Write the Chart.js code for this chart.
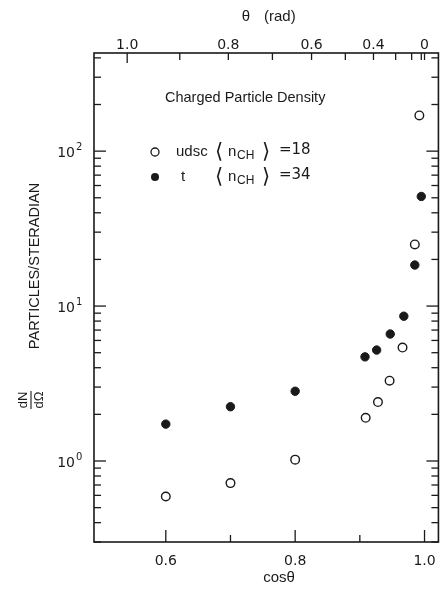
<!DOCTYPE html>
<html>
<head>
<meta charset="utf-8">
<script src="https://cdn.jsdelivr.net/npm/chart.js@4/dist/chart.umd.min.js"></script>
<style>
html,body{margin:0;padding:0;background:#fff;}
#wrap{width:447px;height:589px;}
</style>
</head>
<body>
<div id="wrap"><canvas id="c" width="447" height="589"></canvas></div>
<script>
// ---- data ----
const cosUdsc = [0.6, 0.7, 0.8, 0.909, 0.928, 0.946, 0.966, 0.985, 0.992];
const udscVals = [0.59, 0.72, 1.02, 1.9, 2.4, 3.3, 5.4, 25, 170];
const cosT = [0.6, 0.7, 0.8, 0.908, 0.926, 0.947, 0.968, 0.985, 0.995];
const tVals = [1.73, 2.24, 2.82, 4.7, 5.2, 6.6, 8.6, 18.4, 51];

const xTicks = [0.6, 0.7, 0.8, 0.9, 1.0];
const xTickLabels = ['0.6', '', '0.8', '', '1.0'];
const thetaTicks = [1.0, 0.9, 0.8, 0.7, 0.6, 0.5, 0.4, 0.3, 0.2, 0.1, 0.0];
const thetaLabels = ['1.0', '', '0.8', '', '0.6', '', '0.4', '', '', '', '0'];
const yDecades = [1, 10, 100];
const yExponents = ['0', '1', '2'];

const INK = '#1a1a1a';
const FONT = '"Liberation Sans", Arial, sans-serif';
const NUMFONT = '"DejaVu Sans", "Liberation Sans", sans-serif';

const decor = {
  id: 'decor',
  afterDraw(chart) {
    const ctx = chart.ctx;
    const a = chart.chartArea;
    const xs = chart.scales.x, ys = chart.scales.y;
    ctx.save();
    ctx.strokeStyle = INK;
    ctx.fillStyle = INK;
    // frame
    ctx.lineWidth = 1.6;
    ctx.strokeRect(a.left, a.top, a.right - a.left, a.bottom - a.top);
    ctx.lineWidth = 1.3;
    // bottom ticks (inward)
    xTicks.forEach((v, i) => {
      const px = xs.getPixelForValue(v);
      const len = xTickLabels[i] ? 12 : 7;
      ctx.beginPath(); ctx.moveTo(px, a.bottom); ctx.lineTo(px, a.bottom - len); ctx.stroke();
    });
    // top ticks (inward)
    thetaTicks.forEach((t, i) => {
      const px = xs.getPixelForValue(Math.cos(t));
      const len = i === 0 ? 10 : 7;
      ctx.beginPath(); ctx.moveTo(px, a.top); ctx.lineTo(px, a.top + len); ctx.stroke();
    });
    // y ticks left & right
    const ymin = ys.min, ymax = ys.max;
    for (let e = -1; e <= 3; e++) {
      for (let m = 1; m <= 9; m++) {
        const v = m * Math.pow(10, e);
        if (v < ymin || v > ymax) continue;
        const py = ys.getPixelForValue(v);
        const len = m === 1 ? 12 : 7;
        ctx.beginPath(); ctx.moveTo(a.left, py); ctx.lineTo(a.left + len, py); ctx.stroke();
        ctx.beginPath(); ctx.moveTo(a.right, py); ctx.lineTo(a.right - len, py); ctx.stroke();
      }
    }
    // y labels 10^n
    yDecades.forEach((v, i) => {
      const py = ys.getPixelForValue(v);
      ctx.font = '14px ' + NUMFONT;
      ctx.textAlign = 'right'; ctx.textBaseline = 'middle';
      ctx.fillText('10', 75, py + 2);
      ctx.font = '10px ' + NUMFONT;
      ctx.textAlign = 'left';
      ctx.fillText(yExponents[i], 76, py - 4);
    });
    // y title
    ctx.save();
    ctx.translate(35, 266);
    ctx.rotate(-Math.PI / 2);
    ctx.font = '14.5px ' + FONT;
    ctx.textAlign = 'center'; ctx.textBaseline = 'middle';
    ctx.fillText('PARTICLES/STERADIAN', 0, 0);
    ctx.restore();
    ctx.save();
    ctx.translate(31, 400);
    ctx.rotate(-Math.PI / 2);
    ctx.font = '13px ' + FONT;
    ctx.textAlign = 'center'; ctx.textBaseline = 'middle';
    ctx.fillText('dN', 0, -8);
    ctx.fillText('dΩ', 0, 8);
    ctx.lineWidth = 1.1;
    ctx.beginPath(); ctx.moveTo(-9, 0); ctx.lineTo(9, 0); ctx.stroke();
    ctx.restore();
    // x titles
    ctx.font = '15px ' + FONT;
    ctx.textAlign = 'center'; ctx.textBaseline = 'middle';
    ctx.fillText('cosθ', 279, 578);
    ctx.fillText('θ', 246, 17);
    ctx.textAlign = 'left';
    ctx.fillText('(rad)', 264, 17);
    // chart title
    ctx.font = '14.5px ' + FONT;
    ctx.textAlign = 'left';
    ctx.fillText('Charged Particle Density', 165, 98);
    // legend
    const rows = [
      {y: 152, fill: false, name: 'udsc', nameX: 176, val: '=18'},
      {y: 177, fill: true, name: 't', nameX: 181, val: '=34'}
    ];
    rows.forEach(r => {
      ctx.beginPath();
      ctx.arc(155, r.y, 4, 0, Math.PI * 2);
      if (r.fill) { ctx.fill(); } else { ctx.lineWidth = 1.3; ctx.stroke(); }
      ctx.font = '15px ' + FONT;
      ctx.textAlign = 'left'; ctx.textBaseline = 'middle';
      ctx.fillText(r.name, r.nameX, r.y);
      ctx.font = '21px "DejaVu Sans", sans-serif';
      ctx.fillText('⟨', 215, r.y + 1);
      ctx.font = '15px ' + FONT;
      ctx.fillText('n', 228, r.y);
      ctx.font = '12px ' + FONT;
      ctx.fillText('CH', 237, r.y + 4);
      ctx.font = '21px "DejaVu Sans", sans-serif';
      ctx.fillText('⟩', 262, r.y + 1);
      ctx.font = '15px ' + NUMFONT;
      ctx.fillText(r.val, 279, r.y - 2);
    });
    ctx.restore();
  }
};

const ptsU = cosUdsc.map((x, i) => ({x: x, y: udscVals[i]}));
const ptsT = cosT.map((x, i) => ({x: x, y: tVals[i]}));

new Chart(document.getElementById('c'), {
  type: 'scatter',
  data: {
    datasets: [
      {label: 'udsc', data: ptsU, pointStyle: 'circle', pointRadius: 4.3, pointHoverRadius: 4.3,
       backgroundColor: '#ffffff', borderColor: INK, borderWidth: 1.4},
      {label: 't', data: ptsT, pointStyle: 'circle', pointRadius: 4.2, pointHoverRadius: 4.2,
       backgroundColor: INK, borderColor: INK, borderWidth: 1}
    ]
  },
  options: {
    responsive: false,
    animation: false,
    events: [],
    layout: {padding: {left: 0, right: 7, top: 0, bottom: 0}},
    plugins: {legend: {display: false}, tooltip: {enabled: false}, title: {display: false}},
    scales: {
      x: {
        type: 'linear', position: 'bottom', min: 0.489, max: 1.0215,
        afterBuildTicks: s => { s.ticks = xTicks.map(v => ({value: v})); },
        afterFit: s => { s.height = 47; },
        grid: {display: false, drawTicks: false},
        border: {display: false},
        ticks: {autoSkip: false, maxRotation: 0, padding: 11, color: INK,
                font: {family: NUMFONT, size: 14},
                callback: (v, i) => xTickLabels[i]}
      },
      x2: {
        type: 'linear', position: 'top', min: 0.489, max: 1.0215,
        afterBuildTicks: s => { s.ticks = thetaTicks.map(t => ({value: Math.cos(t)})); },
        afterFit: s => { s.height = 53; },
        grid: {display: false, drawTicks: false},
        border: {display: false},
        ticks: {autoSkip: false, maxRotation: 0, padding: -1, color: INK,
                font: {family: NUMFONT, size: 14},
                callback: (v, i) => thetaLabels[i]}
      },
      y: {
        type: 'logarithmic', position: 'left', min: 0.33, max: 430,
        afterFit: s => { s.width = 94; },
        grid: {display: false, drawTicks: false},
        border: {display: false},
        ticks: {display: false}
      }
    }
  },
  plugins: [decor]
});
</script>
</body>
</html>
